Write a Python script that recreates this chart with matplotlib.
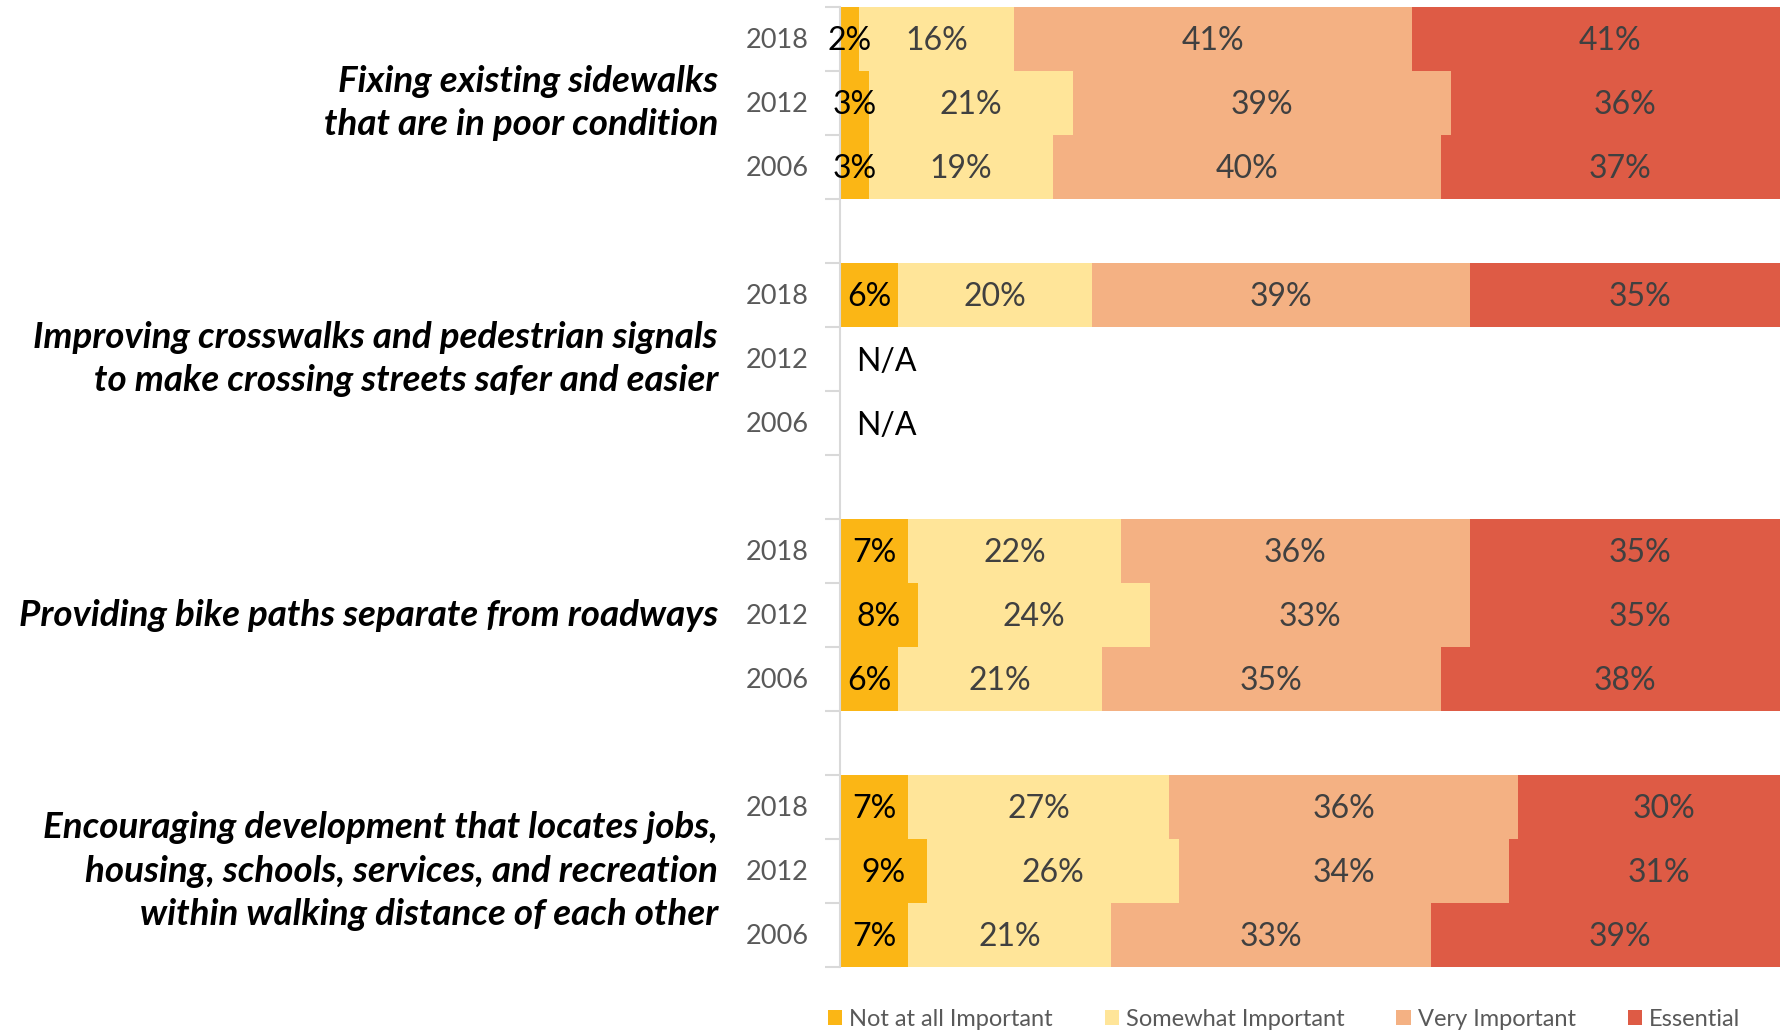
import numpy as np
import matplotlib

matplotlib.use("Agg")
import matplotlib.pyplot as plt
from matplotlib.patches import Patch

plt.rcParams["font.family"] = ["Lato", "DejaVu Sans"]

groups = [
    "Fixing existing sidewalks\nthat are in poor condition",
    "Improving crosswalks and pedestrian signals\nto make crossing streets safer and easier",
    "Providing bike paths separate from roadways",
    "Encouraging development that locates jobs,\nhousing, schools, services, and recreation\nwithin walking distance of each other",
]
years = ["2018", "2012", "2006"]
series = ["Not at all Important", "Somewhat Important", "Very Important", "Essential"]
colors = ["#FBB615", "#FFE599", "#F4B183", "#DE5B45"]

# rows: group x year, None = not asked
not_at_all = [2, 3, 3, 6, None, None, 7, 8, 6, 7, 9, 7]
somewhat = [16, 21, 19, 20, None, None, 22, 24, 21, 27, 26, 21]
very = [41, 39, 40, 39, None, None, 36, 33, 35, 36, 34, 33]
essential = [41, 36, 37, 35, None, None, 35, 35, 38, 30, 31, 39]

values = [not_at_all, somewhat, very, essential]

fig = plt.figure(figsize=(17.8, 10.33), dpi=100)
ax = fig.add_axes([840 / 1780, 1 - 967 / 1033, 940 / 1780, 960 / 1033])

# row positions: 3 years per group, one blank row between groups
ypos = []
for g in range(len(groups)):
    for j in range(len(years)):
        ypos.append(g * 4 + j)
ypos = np.array(ypos)

left = np.zeros(len(ypos))
for s, (vals, col) in enumerate(zip(values, colors)):
    for i, v in enumerate(vals):
        if v is None:
            continue
        ax.barh(ypos[i], v, left=left[i], height=1.0, color=col, lw=0)
        tc = "black" if s == 0 else "#404040"
        ax.text(left[i] + v / 2, ypos[i] + 0.03, f"{v}%", ha="center", va="center",
                fontsize=23, color=tc)
        left[i] += v

for i in range(len(ypos)):
    if not_at_all[i] is None:
        ax.text(1.7, ypos[i] + 0.05, "N/A", ha="left", va="center", fontsize=23,
                color="black")

ax.set_xlim(0, 97)
ax.set_ylim(14.5, -0.5)
ax.set_xticks([])
ax.set_yticks(np.arange(-0.5, 15.0, 1.0))
ax.set_yticklabels([])
ax.tick_params(axis="y", length=11, width=1.5, color="#D9D9D9")
for sp in ["top", "right", "bottom"]:
    ax.spines[sp].set_visible(False)
ax.spines["left"].set_color("#D9D9D9")
ax.spines["left"].set_linewidth(1.5)

for i, yp in enumerate(ypos):
    ax.text(-3.2, yp + 0.03, years[i % 3], ha="right", va="center", fontsize=19.5,
            color="#595959")

for g, name in enumerate(groups):
    ax.text(-12.6, g * 4 + 1, name, ha="right", va="center", fontsize=26.5,
            fontweight="bold", fontstyle="italic", color="black", linespacing=1.38)

handles = [Patch(facecolor=c, edgecolor="none") for c in colors]
fig.legend(handles, series, loc="center", bbox_to_anchor=(1284 / 1780, 1 - 1019 / 1033),
           ncol=4, frameon=False, fontsize=17, handlelength=0.6, handleheight=0.6,
           handletextpad=0.3, columnspacing=2.2, labelcolor="#595959")

fig.savefig("out.png", dpi=100)
